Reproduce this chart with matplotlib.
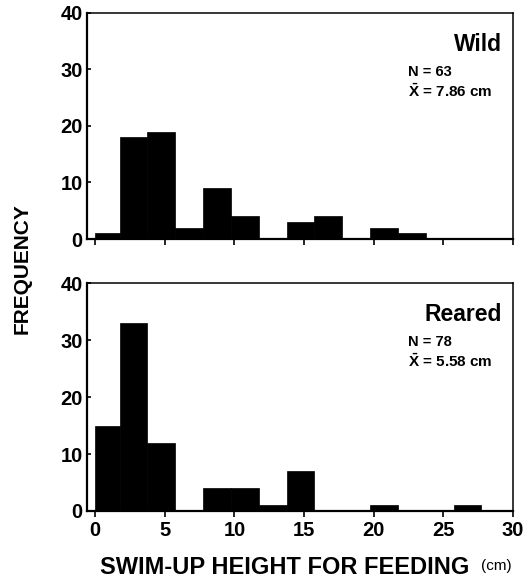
## swim-up height histograms, wild vs reared fish

import numpy as np
import matplotlib
matplotlib.use("Agg")
import matplotlib.pyplot as plt

plt.rcParams['font.family'] = ['Liberation Sans', 'DejaVu Sans']
plt.rcParams['font.weight'] = 'bold'
plt.rcParams['mathtext.fontset'] = 'custom'
plt.rcParams['mathtext.bf'] = 'Liberation Sans:bold'
plt.rcParams['mathtext.rm'] = 'Liberation Sans:bold'

# bin left edges (cm) and width
bin_left = [0, 1.75, 3.75, 5.75, 7.75, 9.75, 11.75, 13.75, 15.75, 17.75,
            19.75, 21.75, 23.75, 25.75]
bin_width = [1.75, 2, 2, 2, 2, 2, 2, 2, 2, 2, 2, 2, 2, 2]

wild_counts = [1, 18, 19, 2, 9, 4, 0, 3, 4, 0, 2, 1, 0, 0]
reared_counts = [15, 33, 12, 0, 4, 4, 1, 7, 0, 0, 1, 0, 0, 1]

panels = [("Wild", "N = 63", r"$\bar{\mathbf{X}}$ = 7.86 cm", wild_counts),
          ("Reared", "N = 78", r"$\bar{\mathbf{X}}$ = 5.58 cm", reared_counts)]

x_ticks = [0, 5, 10, 15, 20, 25, 30]
y_ticks = [0, 10, 20, 30, 40]

fig = plt.figure(figsize=(5.27, 5.83), dpi=100)
ax_top = fig.add_axes([0.165, 0.590, 0.808, 0.388])
ax_bot = fig.add_axes([0.165, 0.1235, 0.808, 0.391])

for ax, (name, ntxt, mtxt, counts) in zip([ax_top, ax_bot], panels):
    ax.bar(bin_left, counts, width=bin_width, align='edge', color='black',
           edgecolor='black', linewidth=0.5)
    ax.set_xlim(-0.6, 30)
    ax.set_ylim(0, 40)
    ax.set_xticks(x_ticks)
    ax.set_yticks(y_ticks)
    ax.tick_params(axis='y', direction='in', length=3, width=1.2,
                   labelsize=14.5, pad=3)
    ax.tick_params(axis='x', direction='out', length=4, width=1.2,
                   labelsize=14.5, pad=3)
    for s in ['left', 'bottom']:
        ax.spines[s].set_linewidth(1.6)
    for s in ['top', 'right']:
        ax.spines[s].set_linewidth(1.1)
    ax.text(0.975, 0.86, name, transform=ax.transAxes, ha='right',
            va='center', fontsize=16.5, fontweight='bold')
    ax.text(0.755, 0.74, ntxt, transform=ax.transAxes, ha='left',
            va='center', fontsize=10.5, fontweight='bold')
    ax.text(0.755, 0.655, mtxt, transform=ax.transAxes, ha='left',
            va='center', fontsize=11, fontweight='bold')

ax_top.tick_params(axis='x', labelbottom=False)

fig.text(0.042, 0.54, "FREQUENCY", rotation=90, ha='center', va='center',
         fontsize=15, fontweight='bold')
fig.text(0.54, 0.027, "SWIM-UP HEIGHT FOR FEEDING", ha='center',
         va='center', fontsize=17, fontweight='bold')
fig.text(0.912, 0.03, "(cm)", ha='left', va='center', fontsize=11,
         fontweight='normal')

fig.savefig("out.png", dpi=100)
